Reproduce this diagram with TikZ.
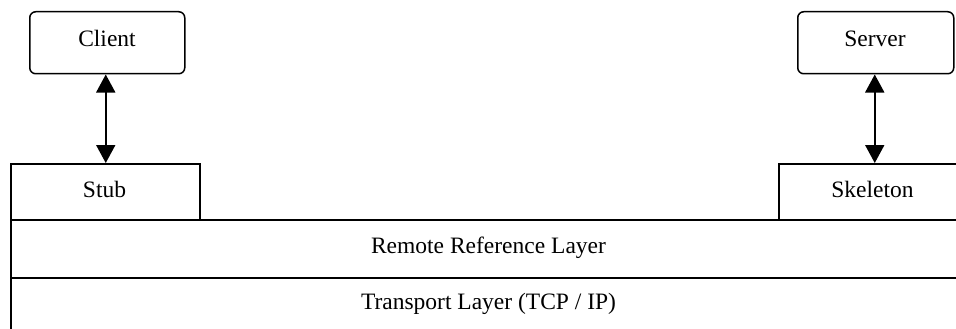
\documentclass[tikz,border=0pt]{standalone}
\usepackage{fontspec}
\setmainfont{Liberation Serif}
\usetikzlibrary{arrows.meta}
\begin{document}
\begin{tikzpicture}[x=1pt,y=-1pt,
  box/.style={draw,line width=1.5pt,inner sep=0pt,anchor=north west},
  rbox/.style={box,rounded corners=6pt},
  lbl/.style={anchor=base,inner sep=0pt,font=\fontsize{23.5}{28}\selectfont},
  link/.style={line width=1.8pt,{Triangle[length=18pt,width=19pt]}-{Triangle[length=18pt,width=19pt]}}]
\useasboundingbox (0,0) rectangle (956,329);
\clip (0,0) rectangle (956,329);
\node[rbox,minimum width=155pt,minimum height=62pt] (client) at (29,11) {};
\node[rbox,minimum width=156pt,minimum height=62pt] (server) at (797,11) {};
\node[box,minimum width=189pt,minimum height=56pt] (stub) at (10,163) {};
\node[box,minimum width=189pt,minimum height=56pt] (skel) at (778,163) {};
\node[box,minimum width=957pt,minimum height=58pt] (rrl) at (10,219) {};
\node[box,minimum width=957pt,minimum height=58pt] (tl) at (10,277) {};
\node[lbl] (clientt) at (107,47) {Client};
\node[lbl] (servert) at (875,47) {Server};
\node[lbl] (stubt) at (104.5,197) {Stub};
\node[lbl] (skelt) at (872.5,197) {Skeleton};
\node[lbl] (rrlt) at (488.5,253) {Remote Reference Layer};
\node[lbl] (tlt) at (488.5,309) {Transport Layer (TCP / IP)};
\draw[link] ([xshift=-1.5pt]client.south) -- ([xshift=-1.5pt]client.south |- stub.north);
\draw[link] ([xshift=-1pt]server.south) -- ([xshift=-1pt]server.south |- skel.north);
\end{tikzpicture}
\end{document}
